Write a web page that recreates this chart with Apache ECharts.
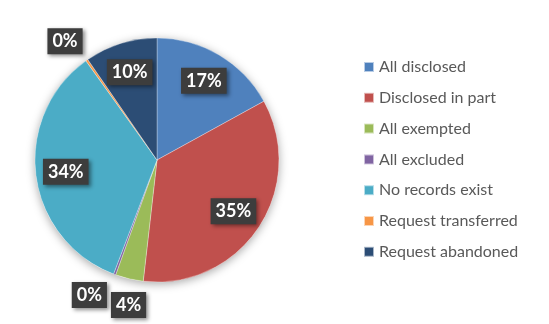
<!DOCTYPE html>
<html>
<head>
<meta charset="utf-8">
<script src="https://cdn.jsdelivr.net/npm/echarts@6/dist/echarts.min.js"></script>
<style>
html,body{margin:0;padding:0;background:#fff;}
#chart{width:549px;height:324px;}
</style>
</head>
<body>
<div id="chart"></div>
<script>
var categories = ['All disclosed','Disclosed in part','All exempted','All excluded','No records exist','Request transferred','Request abandoned'];
var values = [17.0, 34.8, 3.7, 0.3, 34.3, 0.3, 9.6];
var colors = ['#4F81BD','#C0504D','#9BBB59','#8064A2','#4BACC6','#F79646','#2C4D75'];

var total = values.reduce(function(a,b){return a+b;},0);
var CENTER = [157, 160];
var R = 122;

// label placement tweaks for small slices (outside labels)
var outsideLabel = {
  2: {length: 27, length2: -28},
  3: {length: 22, length2: -5},
  5: {length: 23, length2: -14}
};

var labelStyle = {
  color: '#fff',
  fontFamily: 'Lato',
  fontWeight: 'bold',
  fontSize: 18,
  lineHeight: 18,
  backgroundColor: '#3d3d3d',
  padding: [4, 5],
  shadowColor: 'rgba(0,0,0,0.45)',
  shadowBlur: 4,
  shadowOffsetX: 2,
  shadowOffsetY: 2,
  formatter: function(p){ return Math.round(p.percent) + '%'; }
};

var mainData = categories.map(function(c,i){
  return {name: c, value: values[i], itemStyle: {color: colors[i]}};
});

var labelData = categories.map(function(c,i){
  var d = {name: c, value: values[i]};
  if (outsideLabel[i]) {
    d.label = {position: 'outside', distanceToLabelLine: 5};
    d.labelLine = {show: false, length: outsideLabel[i].length, length2: outsideLabel[i].length2};
  }
  return d;
});

var chart = echarts.init(document.getElementById('chart'), null, {renderer: 'canvas'});
chart.setOption({
  backgroundColor: '#fff',
  animation: false,
  legend: {
    orient: 'vertical',
    left: 363,
    top: 59,
    padding: 0,
    itemWidth: 10,
    itemHeight: 10,
    itemGap: 14.8,
    icon: 'rect',
    textStyle: {color: '#595959', fontSize: 16, fontFamily: 'Lato', padding: [0,0,0,0]},
    data: categories
  },
  series: [
    {
      type: 'pie',
      center: CENTER,
      radius: R,
      silent: true,
      z: 1,
      label: {show: false},
      labelLine: {show: false},
      itemStyle: {color: '#fff', shadowColor: 'rgba(0,0,0,0.35)', shadowBlur: 10, shadowOffsetX: 0, shadowOffsetY: 2},
      data: [{name: 'total', value: total}],
      legendHoverLink: false
    },
    {
      type: 'pie',
      center: CENTER,
      radius: R,
      startAngle: 90,
      clockwise: true,
      z: 2,
      avoidLabelOverlap: false,
      label: {show: false},
      labelLine: {show: false},
      itemStyle: {borderColor: 'rgba(255,255,255,0.6)', borderWidth: 0.5},
      data: mainData
    },
    {
      type: 'pie',
      center: CENTER,
      radius: [56, R],
      startAngle: 90,
      clockwise: true,
      z: 3,
      silent: true,
      avoidLabelOverlap: false,
      itemStyle: {color: 'rgba(0,0,0,0)', borderWidth: 0},
      label: Object.assign({show: true, position: 'inside'}, labelStyle),
      labelLine: {show: false},
      data: labelData,
      legendHoverLink: false
    }
  ]
});
</script>
</body>
</html>
